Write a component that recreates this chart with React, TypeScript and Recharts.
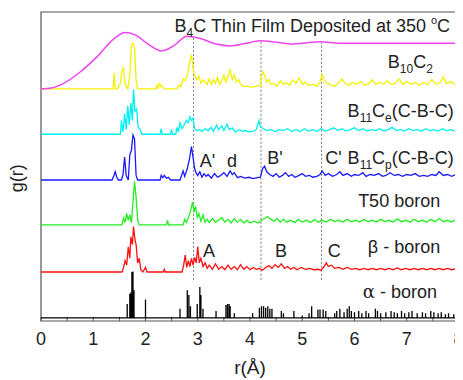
import React from "react";
import { LineChart, Line, XAxis, YAxis, ReferenceLine, ReferenceArea, ReferenceDot } from "recharts";

// g(r) curves: [r (Å), g]; each curve is shifted up by its offset
const filmB4C: [number, number][] = [
  [0, 0], [0.2, 0.02], [0.43, 0.12], [0.75, 0.37], [1.07, 0.7], [1.4, 1.1], [1.61, 1.23], [1.8, 1.18],
  [2.05, 0.98], [2.31, 0.83], [2.55, 0.95], [2.79, 1.15], [3.05, 1.1], [3.35, 0.98], [3.62, 0.94],
  [3.9, 0.99], [4.19, 1.05], [4.5, 1.02], [4.83, 0.98], [5.1, 1.01], [5.34, 1.03], [5.7, 1.0], [6.2, 0.995], [8, 1.0],
];

const b10c2: [number, number][] = [
  [0, 0], [1.38, 0], [1.4, 0.35], [1.42, 0], [1.46, 0], [1.52, 0.12], [1.55, 0.4], [1.58, 0.46], [1.61, 0.1],
  [1.66, 0], [1.7, 0.3], [1.73, 0.95], [1.76, 1.0], [1.79, 0.9], [1.82, 0.2], [1.85, 0], [2.2, 0], [2.22, 0.1],
  [2.24, 0.02], [2.27, 0.12], [2.3, 0.05], [2.33, 0.06], [2.36, 0], [2.6, 0], [2.64, 0.08], [2.68, 0.05],
  [2.72, 0.22], [2.76, 0.18], [2.8, 0.3], [2.84, 0.55], [2.88, 0.75], [2.91, 0.45], [2.94, 0.3], [2.98, 0.2],
  [3.02, 0.28], [3.06, 0.12], [3.1, 0.2], [3.14, 0.15], [3.18, 0.1], [3.22, 0.22], [3.26, 0.1], [3.3, 0.2],
  [3.34, 0.12], [3.38, 0.25], [3.42, 0.1], [3.46, 0.18], [3.5, 0.3], [3.54, 0.15], [3.58, 0.28], [3.62, 0.42],
  [3.66, 0.2], [3.7, 0.3], [3.74, 0.15], [3.78, 0.2], [3.82, 0.1], [3.88, 0.05], [3.95, 0.06], [4.02, 0.04],
  [4.1, 0.05], [4.16, 0.08], [4.2, 0.05], [4.24, 0.38], [4.28, 0.3], [4.32, 0.15], [4.36, 0.2], [4.4, 0.1],
  [4.46, 0.12], [4.52, 0.06], [4.58, 0.18], [4.64, 0.1], [4.7, 0.14], [4.76, 0.08], [4.82, 0.2], [4.88, 0.12],
  [4.94, 0.24], [5.0, 0.1], [5.06, 0.15], [5.12, 0.08], [5.2, 0.1], [5.28, 0.06], [5.34, 0.15], [5.38, 0.32],
  [5.42, 0.18], [5.48, 0.12], [5.56, 0.08], [5.62, 0.06], [5.7, 0.14], [5.76, 0.22], [5.82, 0.12], [5.9, 0.08],
  [5.96, 0.14], [6.04, 0.1], [6.12, 0.16], [6.2, 0.08], [6.28, 0.12], [6.34, 0.2], [6.4, 0.1], [6.48, 0.14],
  [6.56, 0.1], [6.62, 0.18], [6.7, 0.1], [6.78, 0.12], [6.86, 0.22], [6.92, 0.1], [7.0, 0.16], [7.08, 0.1],
  [7.16, 0.14], [7.24, 0.08], [7.32, 0.14], [7.4, 0.1], [7.48, 0.2], [7.56, 0.1], [7.64, 0.14], [7.7, 0.26],
  [7.76, 0.12], [7.84, 0.16], [7.92, 0.1], [8, 0.12],
];

const b11ce: [number, number][] = [
  [0, 0], [1.52, 0], [1.54, 0.3], [1.57, 0.05], [1.6, 0.45], [1.63, 0.1], [1.66, 0.62], [1.69, 0.2], [1.72, 0.68],
  [1.75, 0.3], [1.77, 0.98], [1.8, 0.5], [1.83, 0.55], [1.86, 0.15], [1.9, 0.1], [1.93, 0], [2.28, 0], [2.3, 0.12],
  [2.32, 0], [2.48, 0], [2.5, 0.1], [2.52, 0], [2.58, 0], [2.6, 0.15], [2.63, 0.05], [2.66, 0.25], [2.7, 0.12],
  [2.74, 0.2], [2.78, 0.3], [2.82, 0.25], [2.85, 0.38], [2.88, 0.3], [2.91, 0.35], [2.94, 0.12], [2.98, 0.08],
  [3.04, 0.1], [3.08, 0.06], [3.14, 0.12], [3.2, 0.08], [3.26, 0.15], [3.3, 0.06], [3.36, 0.2], [3.4, 0.1],
  [3.46, 0.18], [3.5, 0.08], [3.56, 0.22], [3.6, 0.1], [3.66, 0.14], [3.72, 0.05], [3.8, 0.1], [3.86, 0.06],
  [3.92, 0.08], [3.98, 0.05], [4.06, 0.06], [4.12, 0.1], [4.17, 0.3], [4.2, 0.16], [4.26, 0.12], [4.32, 0.08],
  [4.4, 0.1], [4.48, 0.06], [4.56, 0.1], [4.64, 0.08], [4.72, 0.12], [4.8, 0.06], [4.88, 0.1], [4.96, 0.06],
  [5.04, 0.12], [5.12, 0.07], [5.2, 0.1], [5.28, 0.06], [5.36, 0.12], [5.44, 0.07], [5.52, 0.1], [5.6, 0.14],
  [5.68, 0.08], [5.76, 0.12], [5.84, 0.07], [5.92, 0.1], [6.0, 0.14], [6.08, 0.08], [6.16, 0.12], [6.24, 0.07],
  [6.32, 0.1], [6.4, 0.08], [6.48, 0.12], [6.56, 0.07], [6.64, 0.1], [6.72, 0.15], [6.8, 0.08], [6.88, 0.1],
  [6.96, 0.07], [7.04, 0.12], [7.12, 0.08], [7.2, 0.1], [7.28, 0.07], [7.36, 0.12], [7.44, 0.08], [7.52, 0.1],
  [7.6, 0.07], [7.68, 0.12], [7.76, 0.08], [7.84, 0.1], [7.92, 0.07], [8, 0.08],
];

const b11cp: [number, number][] = [
  [0, 0], [1.36, 0], [1.39, 0.08], [1.42, 0.18], [1.45, 0.06], [1.48, 0], [1.54, 0], [1.57, 0.12], [1.6, 0.5],
  [1.63, 0.1], [1.67, 0], [1.7, 0.55], [1.73, 0.65], [1.76, 0.98], [1.79, 0.9], [1.82, 0.1], [1.85, 0], [2.28, 0],
  [2.3, 0.1], [2.33, 0.05], [2.36, 0.1], [2.4, 0.04], [2.44, 0.06], [2.48, 0], [2.66, 0], [2.69, 0.1], [2.72, 0.2],
  [2.75, 0.08], [2.8, 0.25], [2.84, 0.45], [2.88, 0.73], [2.91, 0.5], [2.94, 0.25], [2.97, 0.15], [3.0, 0.1],
  [3.04, 0.18], [3.08, 0.06], [3.12, 0.14], [3.16, 0.08], [3.2, 0.12], [3.26, 0.04], [3.32, 0.14], [3.38, 0.06],
  [3.44, 0.1], [3.5, 0.16], [3.56, 0.08], [3.62, 0.2], [3.66, 0.12], [3.7, 0.16], [3.76, 0.05], [3.82, 0.08],
  [3.9, 0.04], [3.98, 0.06], [4.06, 0.03], [4.14, 0.05], [4.2, 0.06], [4.24, 0.25], [4.28, 0.3], [4.32, 0.18],
  [4.38, 0.12], [4.44, 0.08], [4.5, 0.14], [4.56, 0.06], [4.62, 0.1], [4.68, 0.16], [4.74, 0.08], [4.8, 0.12],
  [4.86, 0.06], [4.94, 0.1], [5.0, 0.14], [5.06, 0.08], [5.14, 0.1], [5.2, 0.06], [5.28, 0.08], [5.34, 0.12],
  [5.38, 0.2], [5.44, 0.1], [5.5, 0.14], [5.58, 0.08], [5.66, 0.12], [5.72, 0.18], [5.78, 0.1], [5.86, 0.14],
  [5.94, 0.08], [6.0, 0.12], [6.08, 0.1], [6.16, 0.16], [6.22, 0.08], [6.3, 0.12], [6.38, 0.1], [6.46, 0.14],
  [6.54, 0.08], [6.6, 0.1], [6.68, 0.16], [6.76, 0.1], [6.84, 0.12], [6.92, 0.08], [7.0, 0.12], [7.08, 0.1],
  [7.16, 0.14], [7.24, 0.08], [7.32, 0.1], [7.4, 0.08], [7.48, 0.12], [7.56, 0.1], [7.62, 0.18], [7.7, 0.1],
  [7.78, 0.12], [7.86, 0.08], [7.94, 0.12], [8, 0.1],
];

const t50: [number, number][] = [
  [0, 0], [1.55, 0], [1.58, 0.15], [1.61, 0.05], [1.64, 0.25], [1.67, 0.1], [1.7, 0.22], [1.73, 0.05], [1.76, 0.5],
  [1.79, 0.95], [1.82, 0.6], [1.85, 0.1], [1.88, 0], [2.4, 0], [2.42, 0.1], [2.44, 0], [2.72, 0], [2.75, 0.12],
  [2.78, 0.05], [2.82, 0.15], [2.86, 0.3], [2.9, 0.49], [2.93, 0.3], [2.96, 0.4], [2.99, 0.15], [3.02, 0.25],
  [3.06, 0.08], [3.1, 0.22], [3.14, 0.06], [3.18, 0.12], [3.22, 0.05], [3.28, 0.14], [3.34, 0.06], [3.4, 0.1],
  [3.46, 0.16], [3.52, 0.06], [3.58, 0.12], [3.64, 0.04], [3.7, 0.14], [3.76, 0.06], [3.82, 0.12], [3.88, 0.04],
  [3.94, 0.1], [4.0, 0.04], [4.08, 0.08], [4.16, 0.04], [4.22, 0.1], [4.28, 0.14], [4.34, 0.18], [4.4, 0.12],
  [4.46, 0.08], [4.52, 0.14], [4.58, 0.06], [4.64, 0.12], [4.7, 0.06], [4.78, 0.1], [4.86, 0.05], [4.92, 0.12],
  [5.0, 0.06], [5.08, 0.1], [5.16, 0.05], [5.24, 0.12], [5.3, 0.06], [5.38, 0.1], [5.46, 0.06], [5.54, 0.12],
  [5.62, 0.07], [5.7, 0.1], [5.78, 0.06], [5.86, 0.12], [5.94, 0.07], [6.02, 0.1], [6.1, 0.06], [6.18, 0.12],
  [6.26, 0.07], [6.34, 0.1], [6.42, 0.06], [6.5, 0.12], [6.58, 0.07], [6.66, 0.1], [6.74, 0.06], [6.82, 0.13],
  [6.9, 0.07], [6.98, 0.1], [7.06, 0.06], [7.14, 0.12], [7.22, 0.07], [7.3, 0.1], [7.38, 0.06], [7.46, 0.12],
  [7.54, 0.07], [7.62, 0.14], [7.7, 0.07], [7.78, 0.1], [7.86, 0.06], [7.94, 0.12], [8, 0.08],
];

const betaB: [number, number][] = [
  [0, 0], [1.55, 0], [1.58, 0.1], [1.61, 0.25], [1.64, 0.15], [1.67, 0.55], [1.7, 0.3], [1.72, 0.77], [1.75, 0.6],
  [1.77, 0.99], [1.8, 0.7], [1.82, 0.6], [1.85, 0.2], [1.88, 0.3], [1.91, 0.05], [1.95, 0], [2.0, 0.1], [2.03, 0],
  [2.34, 0], [2.36, 0.06], [2.38, 0], [2.7, 0], [2.73, 0.15], [2.76, 0.37], [2.79, 0.1], [2.82, 0.25], [2.85, 0.12],
  [2.88, 0.3], [2.91, 0.15], [2.94, 0.32], [2.97, 0.2], [3.0, 0.55], [3.03, 0.2], [3.06, 0.3], [3.1, 0.12],
  [3.14, 0.2], [3.18, 0.08], [3.22, 0.15], [3.28, 0.06], [3.34, 0.18], [3.4, 0.06], [3.46, 0.12], [3.52, 0.05],
  [3.58, 0.15], [3.64, 0.06], [3.7, 0.12], [3.76, 0.05], [3.82, 0.16], [3.88, 0.06], [3.94, 0.12], [4.0, 0.05],
  [4.06, 0.1], [4.12, 0.06], [4.18, 0.08], [4.24, 0.04], [4.3, 0.1], [4.36, 0.14], [4.42, 0.08], [4.48, 0.16],
  [4.54, 0.1], [4.6, 0.18], [4.66, 0.08], [4.72, 0.12], [4.78, 0.06], [4.84, 0.1], [4.9, 0.05], [4.98, 0.1],
  [5.06, 0.06], [5.14, 0.08], [5.22, 0.05], [5.3, 0.06], [5.36, 0.04], [5.42, 0.12], [5.46, 0.2], [5.5, 0.12],
  [5.56, 0.15], [5.62, 0.08], [5.7, 0.1], [5.78, 0.06], [5.86, 0.1], [5.94, 0.06], [6.02, 0.08], [6.1, 0.05],
  [6.18, 0.08], [6.26, 0.05], [6.34, 0.08], [6.42, 0.05], [6.5, 0.08], [6.58, 0.05], [6.66, 0.08], [6.74, 0.05],
  [6.82, 0.09], [6.9, 0.05], [6.98, 0.08], [7.06, 0.05], [7.14, 0.08], [7.22, 0.05], [7.3, 0.08], [7.38, 0.05],
  [7.46, 0.08], [7.54, 0.05], [7.62, 0.08], [7.7, 0.05], [7.78, 0.08], [7.86, 0.05], [7.94, 0.07], [8, 0.06],
];

// alpha-boron is a stick pattern: [r, height]
const alphaSticks: [number, number][] = [
  [1.65, 0.3], [1.7, 0.52], [1.72, 0.55], [1.74, 1.0], [1.76, 1.01], [1.78, 0.6], [2.0, 0.4], [2.66, 0.2],
  [2.8, 0.6], [2.83, 0.5], [2.86, 0.25], [2.99, 0.3], [3.04, 0.67], [3.06, 0.5], [3.1, 0.2], [3.35, 0.15],
  [3.54, 0.28], [3.57, 0.3], [3.6, 0.3], [3.62, 0.25], [3.7, 0.1], [4.05, 0.1], [4.18, 0.22], [4.22, 0.25],
  [4.26, 0.25], [4.3, 0.22], [4.34, 0.25], [4.38, 0.2], [4.42, 0.2], [4.6, 0.15], [4.64, 0.1], [4.84, 0.15],
  [5.0, 0.05], [5.13, 0.1], [5.18, 0.25], [5.3, 0.18], [5.34, 0.18], [5.4, 0.18], [5.45, 0.15], [5.62, 0.1],
  [5.66, 0.15], [5.72, 0.2], [5.8, 0.12], [5.86, 0.2], [5.9, 0.25], [5.94, 0.15], [6.0, 0.12], [6.08, 0.15],
  [6.14, 0.1], [6.22, 0.15], [6.27, 0.1], [6.4, 0.2], [6.44, 0.15], [6.5, 0.1], [6.6, 0.12], [6.7, 0.15],
  [6.76, 0.12], [6.82, 0.1], [6.9, 0.15], [6.96, 0.1], [7.04, 0.12], [7.1, 0.15], [7.2, 0.1], [7.3, 0.12],
  [7.36, 0.1], [7.46, 0.15], [7.52, 0.12], [7.6, 0.1], [7.66, 0.12], [7.74, 0.08], [7.8, 0.1], [7.9, 0.08],
];

const OFFSETS = { alpha: 0.07, beta: 1.07, t50: 2.1, b11cp: 3.08, b11ce: 4.08, b10c2: 5.07, film: 5.07 };
const X_TICKS = [0, 1, 2, 3, 4, 5, 6, 7, 8];
const MINOR_TICKS = [0, 0.5, 1, 1.5, 2, 2.5, 3, 3.5, 4, 4.5, 5, 5.5, 6, 6.5, 7, 7.5, 8];
// dashed guide lines: r, bottom, top (plot units)
const GUIDES: [number, number, number][] = [[2.92, 0.9, 6.2], [4.21, 0.9, 6.12], [5.37, 0.9, 6.08]];

const Y_MAX = 6.75;
const INK = "#222";

const shift = (pts: [number, number][], off: number) => pts.map(([x, g]) => ({ x, y: g + off }));
const alphaData = [{ x: 0, y: OFFSETS.alpha }]
  .concat(alphaSticks.flatMap(([x, h]) => [
    { x, y: OFFSETS.alpha },
    { x, y: h + OFFSETS.alpha },
    { x, y: OFFSETS.alpha },
  ]))
  .concat([{ x: 8, y: OFFSETS.alpha }]);

const sub = (s: string) => [
  <tspan key="s" dy={5} fontSize={12}>{s}</tspan>,
];

function textAt(content: React.ReactNode, anchor: "start" | "end" = "start") {
  return (p: any) => (
    <text x={p.cx} y={p.cy} textAnchor={anchor} fontSize={18} fill={INK}>
      {content}
    </text>
  );
}

const LABELS: { x: number; y: number; anchor?: "start" | "end"; content: React.ReactNode }[] = [
  {
    x: 7.83, y: 6.32, anchor: "end",
    content: (
      <>
        B<tspan dy={5} fontSize={12}>4</tspan>
        <tspan dy={-5}>C Thin Film Deposited at 350 </tspan>
        <tspan dy={-8} fontSize={11}>o</tspan>
        <tspan dy={8}>C</tspan>
      </>
    ),
  },
  {
    x: 7.5, y: 5.52, anchor: "end",
    content: (
      <>
        B<tspan dy={5} fontSize={12}>10</tspan>
        <tspan dy={-5}>C</tspan>
        <tspan dy={5} fontSize={12}>2</tspan>
      </>
    ),
  },
  {
    x: 7.9, y: 4.46, anchor: "end",
    content: (
      <>
        B<tspan dy={5} fontSize={12}>11</tspan>
        <tspan dy={-5}>C</tspan>
        <tspan dy={5} fontSize={12}>e</tspan>
        <tspan dy={-5}>(C-B-C)</tspan>
      </>
    ),
  },
  {
    x: 7.9, y: 3.44, anchor: "end",
    content: (
      <>
        B<tspan dy={5} fontSize={12}>11</tspan>
        <tspan dy={-5}>C</tspan>
        <tspan dy={5} fontSize={12}>p</tspan>
        <tspan dy={-5}>(C-B-C)</tspan>
      </>
    ),
  },
  { x: 7.64, y: 2.5, anchor: "end", content: "T50 boron" },
  { x: 7.64, y: 1.48, anchor: "end", content: "β - boron" },
  { x: 7.58, y: 0.5, anchor: "end", content: <><tspan fontFamily="'DejaVu Serif', serif">α</tspan> - boron</> },
  { x: 3.04, y: 3.37, content: "A'" },
  { x: 3.56, y: 3.37, content: "d" },
  { x: 4.33, y: 3.44, content: "B'" },
  { x: 5.44, y: 3.44, content: "C'" },
  { x: 3.1, y: 1.4, content: "A" },
  { x: 4.48, y: 1.39, content: "B" },
  { x: 5.49, y: 1.39, content: "C" },
];

const SERIES = [
  { key: "beta", data: shift(betaB, OFFSETS.beta), color: "#ff1010" },
  { key: "t50", data: shift(t50, OFFSETS.t50), color: "#22ee22" },
  { key: "b11cp", data: shift(b11cp, OFFSETS.b11cp), color: "#1a1aff" },
  { key: "b11ce", data: shift(b11ce, OFFSETS.b11ce), color: "#00f0f0" },
  { key: "b10c2", data: shift(b10c2, OFFSETS.b10c2), color: "#f2f200" },
];

export default function App() {
  return (
    <div style={{ fontFamily: "'Liberation Sans', Arial, sans-serif", width: 455, height: 372 }}>
      <LineChart width={455} height={372} margin={{ top: 4, right: 4, left: 0, bottom: 0 }}>
        <XAxis
          dataKey="x"
          type="number"
          domain={[0, 8]}
          ticks={X_TICKS}
          allowDataOverflow
          axisLine={false}
          tickLine={false}
          tickMargin={5}
          height={59}
          tick={{ fontSize: 18, fill: INK }}
          label={{ value: "r(Å)", position: "insideBottom", offset: 6, fontSize: 19, fill: INK }}
        />
        <YAxis
          type="number"
          domain={[0, Y_MAX]}
          allowDataOverflow
          width={33}
          axisLine={false}
          tickLine={false}
          tick={false}
        />
        <ReferenceArea x1={0} x2={8} y1={0} y2={Y_MAX} fill="none" stroke="#555" strokeWidth={1.2} />
        {MINOR_TICKS.map((t) => (
          <ReferenceLine key={t} segment={[{ x: t, y: 0 }, { x: t, y: 0.09 }]} stroke="#555" />
        ))}
        {GUIDES.map(([x, y1, y2]) => (
          <ReferenceLine
            key={x}
            segment={[{ x, y: y1 }, { x, y: y2 }]}
            stroke="#777"
            strokeDasharray="2 2"
          />
        ))}
        <Line
          data={alphaData}
          dataKey="y"
          stroke="#000"
          strokeWidth={1.3}
          dot={false}
          isAnimationActive={false}
        />
        {SERIES.map((s) => (
          <Line
            key={s.key}
            data={s.data}
            dataKey="y"
            type="linear"
            stroke={s.color}
            strokeWidth={1.3}
            dot={false}
            isAnimationActive={false}
          />
        ))}
        <Line
          data={shift(filmB4C, OFFSETS.film)}
          dataKey="y"
          type="monotone"
          stroke="#ee44ee"
          strokeWidth={1.5}
          dot={false}
          isAnimationActive={false}
        />
        {LABELS.map((l, i) => (
          <ReferenceDot key={i} x={l.x} y={l.y} r={0} shape={textAt(l.content, l.anchor)} />
        ))}
        <ReferenceDot
          x={-0.35}
          y={3.12}
          r={0}
          ifOverflow="visible"
          shape={(p: any) => (
            <text
              x={p.cx}
              y={p.cy}
              transform={`rotate(-90, ${p.cx}, ${p.cy})`}
              textAnchor="middle"
              fontSize={18}
              fill={INK}
            >
              g(r)
            </text>
          )}
        />
      </LineChart>
    </div>
  );
}
